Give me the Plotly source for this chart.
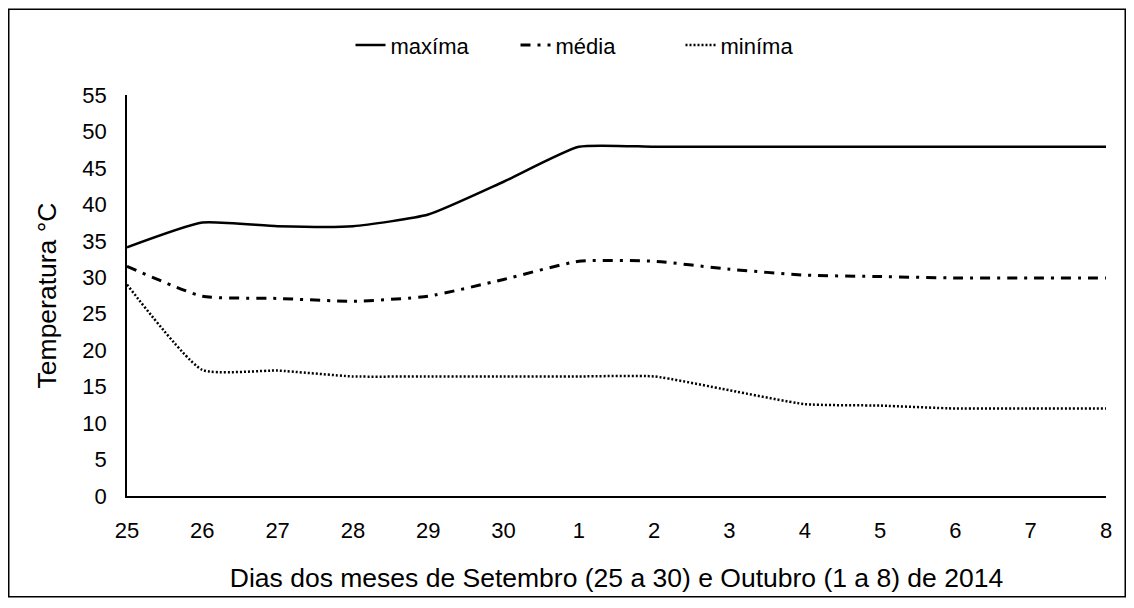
import plotly.graph_objects as go

dias = ["25", "26", "27", "28", "29", "30", "1", "2", "3", "4", "5", "6", "7", "8"]
maxima = [34.1, 37.5, 37.0, 37.0, 38.6, 43.1, 47.9, 47.9, 47.9, 47.9, 47.9, 47.9, 47.9, 47.9]
media = [31.5, 27.4, 27.1, 26.7, 27.4, 29.7, 32.2, 32.2, 31.1, 30.3, 30.1, 29.9, 29.9, 29.9]
minima = [29.0, 17.3, 17.2, 16.4, 16.4, 16.4, 16.4, 16.4, 14.5, 12.6, 12.4, 12.0, 12.0, 12.0]
y_ticks = list(range(0, 56, 5))

x_idx = list(range(len(dias)))
FONT = "Liberation Sans"

fig = go.Figure()
fig.add_trace(go.Scatter(x=x_idx, y=maxima, name="maxíma", mode="lines",
                         line=dict(color="black", width=2.5, shape="spline", smoothing=0.5)))
fig.add_trace(go.Scatter(x=x_idx, y=media, name="média", mode="lines",
                         line=dict(color="black", width=3, dash="10px,7px,3px,7px", shape="spline", smoothing=0.5)))
fig.add_trace(go.Scatter(x=x_idx, y=minima, name="miníma", mode="lines",
                         line=dict(color="black", width=2.5, dash="2px,2px", shape="spline", smoothing=0.5)))

# page body adds an 8px offset; figure coordinates = screen - 8
OFF = 8
W, H = 1118, 592
L, R, T, B = 127 - OFF, W - (1106 - OFF), 95 - OFF, H - (498 - OFF)
pw, ph = W - L - R, H - T - B

def px_x(p):
    return (p - OFF - L) / pw

def px_y(p):
    return (H - B - (p - OFF)) / ph

fig.add_shape(type="rect", xref="paper", yref="paper",
              x0=(0.75 - L) / pw, x1=(W - 0.75 - L) / pw,
              y0=(H - B - (H - 0.75)) / ph, y1=(H - B - 0.75) / ph,
              line=dict(color="black", width=1.5), fillcolor="rgba(0,0,0,0)", layer="below")

fig.update_layout(
    width=W, height=H,
    margin=dict(l=L, r=R, t=T, b=B),
    paper_bgcolor="white", plot_bgcolor="white",
    font=dict(family=FONT, size=22, color="black"),
    showlegend=True,
    legend=dict(orientation="h", x=px_x(598), xanchor="center", y=px_y(45), yanchor="middle",
                font=dict(size=22, family=FONT), bgcolor="rgba(0,0,0,0)",
                entrywidth=120, entrywidthmode="pixels"),
    xaxis=dict(range=[0, len(dias) - 1], tickvals=x_idx, ticktext=dias,
               showgrid=False, zeroline=False, showline=True, linecolor="black", linewidth=1.5,
               ticks="", ticklabelstandoff=14, tickfont=dict(size=22, family=FONT),
               title=dict(text="Dias dos meses de Setembro (25 a 30) e Outubro (1 a 8) de 2014",
                          font=dict(size=26.5, family=FONT), standoff=26)),
    yaxis=dict(range=[0, 55], tickvals=y_ticks,
               showgrid=False, zeroline=False, showline=True, linecolor="black", linewidth=1.5,
               ticks="", ticklabelstandoff=14, tickfont=dict(size=22, family=FONT),
               title=dict(text="Temperatura °C", font=dict(size=26.5, family=FONT), standoff=18)),
)

fig.write_html("out.html")
